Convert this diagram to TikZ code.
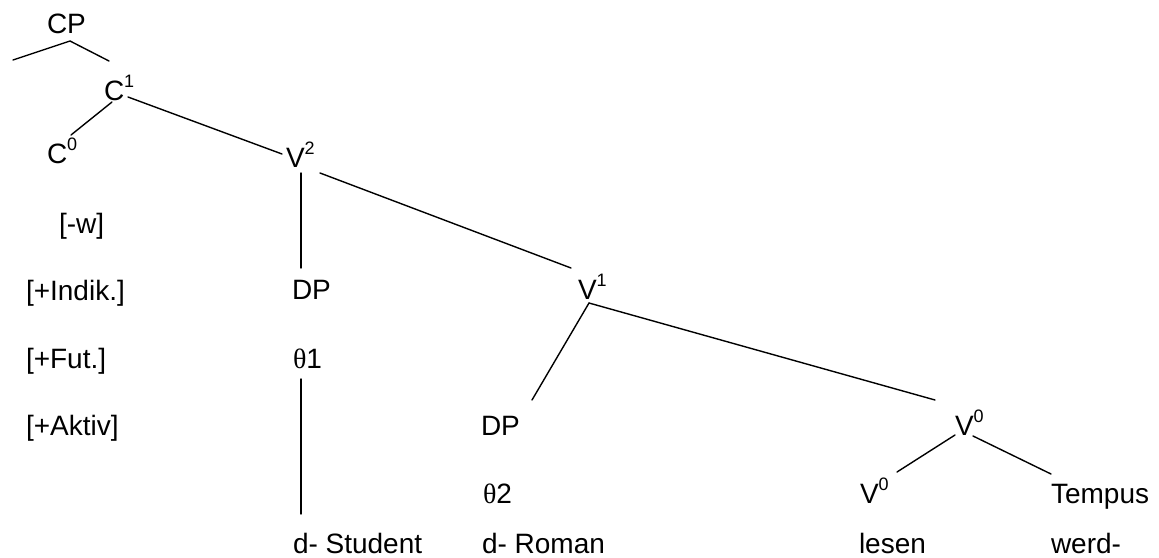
\documentclass[tikz,border=0pt]{standalone}
\usepackage{fontspec}
\setmainfont{Liberation Sans}
\newfontfamily\greekserif{Liberation Serif}
\usetikzlibrary{calc}
% superscript bar level
\newcommand\barlvl[1]{\raisebox{13pt}{\fontsize{18}{20}\selectfont #1}}
\begin{document}
\begin{tikzpicture}[x=1pt,y=-1pt,
  lbl/.style={anchor=base west,inner sep=0pt,outer sep=0pt,font=\fontsize{28}{34}\selectfont},
  branch/.style={line width=1.4pt,line cap=round}]
\useasboundingbox (0,0) rectangle (1159,557);

% category labels
\node[lbl] (cp)  at (47,33)  {CP};
\node[lbl] (c1)  at (104,100) {C\barlvl{1}};
\node[lbl] (c0)  at (47,163) {C\barlvl{0}};
\node[lbl] (v2)  at (286,167) {V\barlvl{2}};
\node[lbl] (dp1) at (292,299) {DP};
\node[lbl] (v1)  at (578,299) {V\barlvl{1}};
\node[lbl] (th1) at (293,368) {{\greekserif θ}1};
\node[lbl] (dp2) at (481,435) {DP};
\node[lbl] (v0a) at (955,435) {V\barlvl{0}};
\node[lbl] (th2) at (483,503) {{\greekserif θ}2};
\node[lbl] (v0b) at (860,503) {V\barlvl{0}};
\node[lbl] (tempus) at (1051,503) {Tempus};

% lexical material
\node[lbl] (student) at (293,553) {d- Student};
\node[lbl] (roman)   at (482,553) {d- Roman};
\node[lbl] (lesen)   at (859,553) {lesen};
\node[lbl] (werd)    at (1051,553) {werd-};

% features of C
\node[lbl] (w)     at (59,233) {[-w]};
\node[lbl] (indik) at (26,300) {[+Indik.]};
\node[lbl] (fut)   at (26,368) {[+Fut.]};
\node[lbl] (aktiv) at (26,435) {[+Aktiv]};

% branches
\coordinate (cpleft) at (13,60);
\draw[branch] (cpleft) -- ($(cp.base west)+(23,8)$) -- ($(c1.base west)+(5,-39)$);
\draw[branch] ($(c1.base west)+(8,2)$) -- ($(c0.base west)+(24,-28)$);
\draw[branch] ($(c1.base west)+(24,-3)$) -- ($(v2.base west)+(-4,-13)$);
\draw[branch] ($(v2.base west)+(15,6)$) -- ($(dp1.base west)+(9,-31)$);
\draw[branch] ($(v2.base west)+(34,6)$) -- ($(v1.base west)+(-7,-31)$);
\draw[branch] ($(v1.base west)+(11,4)$) -- ($(dp2.base west)+(51,-35)$);
\draw[branch] ($(v1.base west)+(11,4)$) -- ($(v0a.base west)+(-20,-35)$);
\draw[branch] ($(v0a.base west)+(0,0)$) -- ($(v0b.base west)+(37,-31)$);
\draw[branch] ($(v0a.base west)+(18,1)$) -- ($(tempus.base west)+(0,-29)$);
\draw[branch] ($(th1.base west)+(8,11)$) -- ($(student.base west)+(8,-39)$);
\end{tikzpicture}
\end{document}
